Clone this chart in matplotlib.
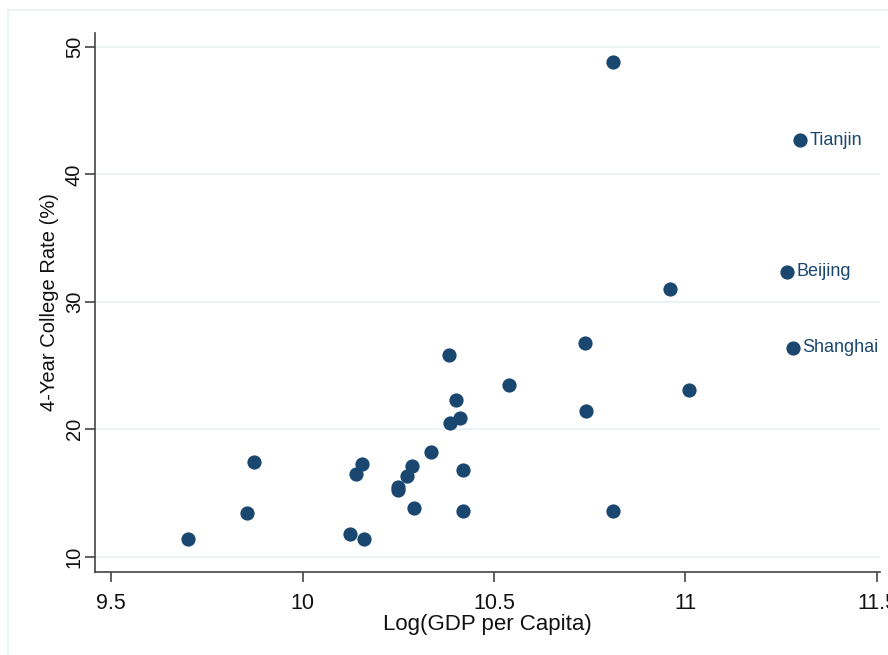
import matplotlib
matplotlib.use("Agg")
import matplotlib.pyplot as plt
from matplotlib.patches import Rectangle

plt.rcParams["font.family"] = ["Liberation Sans", "DejaVu Sans"]

# log GDP per capita and 4-year college rate (%) by province
log_gdp = [10.81, 11.30, 11.266, 11.28, 10.96, 11.01, 10.737, 10.74, 10.81,
           10.54, 10.383, 10.40, 10.41, 10.385, 10.336, 10.42, 10.42, 10.286,
           10.273, 10.25, 10.25, 10.29, 10.156, 10.14, 10.125, 10.16, 9.872,
           9.854, 9.70]
college = [48.8, 42.7, 32.35, 26.4, 31.0, 23.1, 26.8, 21.4, 13.6,
           23.5, 25.8, 22.3, 20.9, 20.5, 18.2, 16.8, 13.6, 17.1,
           16.3, 15.5, 15.25, 13.8, 17.3, 16.5, 11.8, 11.4, 17.4,
           13.45, 11.4]
labels = ["", "Tianjin", "Beijing", "Shanghai"] + [""] * 25

navy = "#1a476f"
grey = "#444444"

fig = plt.figure(figsize=(8.88, 6.55), dpi=100)
fig.patches.append(Rectangle((8 / 888, -0.1), 2, (655 - 10) / 655 + 0.1,
                             transform=fig.transFigure, fill=False,
                             edgecolor="#eaf2f3", linewidth=1.5))
ax = fig.add_axes([95 / 888, 83 / 655, 785 / 888, 539 / 655])

ax.scatter(log_gdp, college, s=105, color=navy, zorder=3, linewidths=0)
for x, y, t in zip(log_gdp, college, labels):
    if t:
        ax.annotate(t, (x, y), xytext=(6.5, 0), textcoords="offset points",
                    va="center", ha="left", color=navy, fontsize=13)

ax.set_xlim(9.458, 11.508)
ax.set_ylim(8.8, 51.1)
ax.set_xticks([9.5, 10, 10.5, 11, 11.5])
ax.set_xticklabels(["9.5", "10", "10.5", "11", "11.5"])
ax.set_yticks([10, 20, 30, 40, 50])
ax.grid(axis="y", color="#eaf2f3", linewidth=1.5, zorder=0)
ax.set_axisbelow(True)

for side in ["top", "right"]:
    ax.spines[side].set_visible(False)
for side in ["left", "bottom"]:
    ax.spines[side].set_color(grey)
    ax.spines[side].set_linewidth(1.2)

ax.tick_params(axis="both", direction="out", length=7, width=1.2,
               color=grey, labelcolor="#111111")
ax.tick_params(axis="x", labelsize=15.5, pad=8)
ax.tick_params(axis="y", labelsize=14.5, pad=1)
plt.setp(ax.get_yticklabels(), rotation=90, va="center")

ax.set_xlabel("Log(GDP per Capita)", fontsize=16, color="#111111", labelpad=0)
ax.set_ylabel("4-Year College Rate (%)", fontsize=14.5, color="#111111", labelpad=4)

fig.savefig("out.png", dpi=100)
